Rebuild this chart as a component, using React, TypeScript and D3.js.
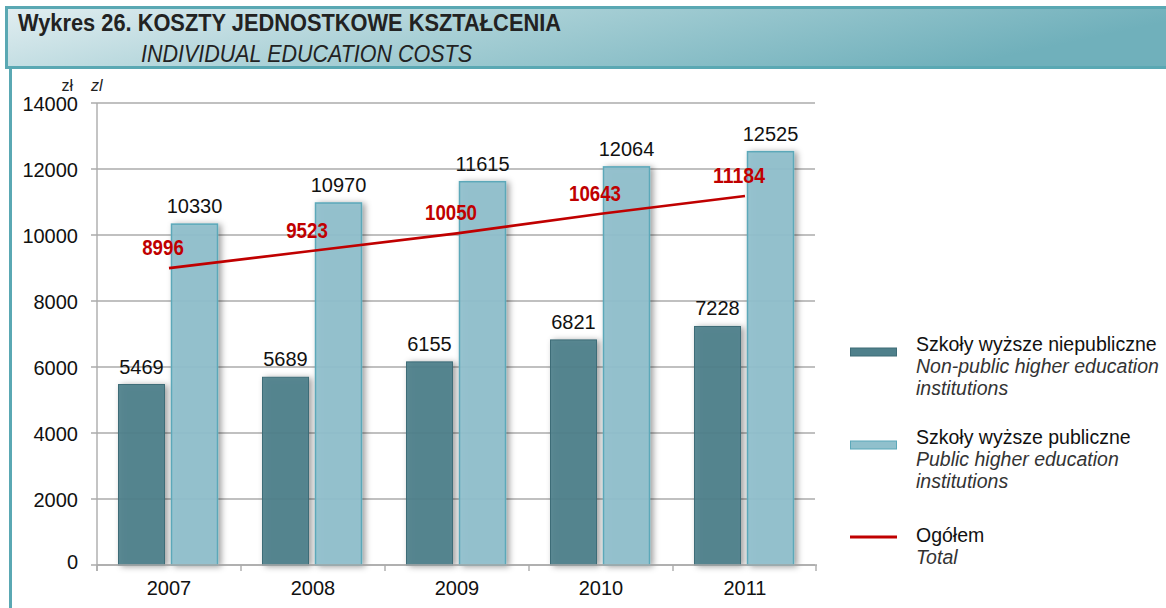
import * as d3 from 'd3';

const years = ['2007', '2008', '2009', '2010', '2011'];
const nonPublicCosts = [5469, 5689, 6155, 6821, 7228];
const publicCosts = [10330, 10970, 11615, 12064, 12525];
const totalCosts = [8996, 9523, 10050, 10643, 11184];
const yTicks = [0, 2000, 4000, 6000, 8000, 10000, 12000, 14000];

const legendItems = [
  { kind: 'dark', pl: 'Szkoły wyższe niepubliczne', en: ['Non-public higher education', 'institutions'] },
  { kind: 'light', pl: 'Szkoły wyższe publiczne', en: ['Public higher education', 'institutions'] },
  { kind: 'line', pl: 'Ogółem', en: ['Total'] }
];

const W = 1166;
const H = 608;
const plot = { left: 97, right: 817, top: 103, bottom: 565 };
const font = '"Liberation Sans", Arial, sans-serif';
const narrow = '"Liberation Sans Narrow", "Arial Narrow", "Liberation Sans", sans-serif';
const DARK = '#4f808b';
const DARK_EDGE = '#3e6c77';
const LIGHT = '#90c0cc';
const LIGHT_EDGE = '#5ba8b9';
const RED = '#c00000';
const GRID = '#ababab';

export default function App() {
  const x = d3.scaleBand().domain(years).range([plot.left, plot.right]).paddingInner(0).paddingOuter(0);
  const y = d3.scaleLinear().domain([0, 14000]).range([plot.bottom, plot.top]);
  const center = (yr: string) => (x(yr) as number) + x.bandwidth() / 2;
  const barW = 46;

  const line = d3
    .line<number>()
    .x((_, i) => center(years[i]))
    .y((v) => y(v));

  const legendTops = [348, 441, 537];

  return (
    <svg width={W} height={H} style={{ position: 'absolute', left: 0, top: 0, background: '#fff' }}>
      <defs>
        <linearGradient id="head" x1="0" y1="0" x2="1" y2="0.25">
          <stop offset="0" stopColor="#e2eef1" />
          <stop offset="0.45" stopColor="#a9d0d6" />
          <stop offset="1" stopColor="#70b0bb" />
        </linearGradient>
        <filter id="shadow" x="-30%" y="-10%" width="160%" height="130%">
          <feDropShadow dx="3" dy="1" stdDeviation="3" floodColor="#000" floodOpacity="0.4" />
        </filter>
      </defs>

      {/* header band */}
      <rect x={5} y={6} width={W - 5} height={63} fill="url(#head)" />
      <rect x={5} y={6} width={W - 5} height={3} fill="#5aa8b3" />
      <rect x={5} y={66} width={W - 5} height={3} fill="#5aa8b3" />
      <rect x={5} y={6} width={3} height={63} fill="#5aa8b3" />
      <rect x={9} y={66} width={3} height={H - 66} fill="#5aa8b3" />

      <text x={18} y={31} fontFamily={narrow} fontWeight="bold" fontSize={23} fill="#222" textLength={543} lengthAdjust="spacingAndGlyphs">
        Wykres 26. KOSZTY JEDNOSTKOWE KSZTAŁCENIA
      </text>
      <text x={141} y={62} fontFamily={narrow} fontStyle="italic" fontSize={23} fill="#222" textLength={331} lengthAdjust="spacingAndGlyphs">
        INDIVIDUAL EDUCATION COSTS
      </text>

      {/* unit labels */}
      <text x={73} y={91} fontFamily={font} fontSize={16} textAnchor="end" fill="#222">zł</text>
      <text x={91} y={91} fontFamily={font} fontSize={16} fontStyle="italic" fill="#222">zl</text>

      {/* grid */}
      {yTicks.map((t) => (
        <g key={t}>
          <line x1={91} x2={815} y1={y(t)} y2={y(t)} stroke={GRID} strokeWidth={1.6} />
          <text x={78} y={y(t) + (t === 0 ? 4 : 8)} fontFamily={font} fontSize={20} textAnchor="end" fill="#111">
            {t}
          </text>
        </g>
      ))}
      <line x1={plot.left} x2={plot.left} y1={plot.top} y2={plot.bottom + 6} stroke={GRID} strokeWidth={1.4} />
      {years.map((yr) => (
        <line key={yr} x1={x(yr)} x2={x(yr)} y1={plot.bottom} y2={plot.bottom + 6} stroke={GRID} strokeWidth={1.4} />
      ))}
      <line x1={plot.right - 1} x2={plot.right - 1} y1={plot.bottom} y2={plot.bottom + 6} stroke={GRID} strokeWidth={1.4} />

      {/* bars */}
      {years.map((yr, i) => {
        const c = center(yr);
        const dx = c - barW - 4.5;
        const lx = c + 2.5;
        return (
          <g key={yr}>
            <rect
              x={dx}
              y={y(nonPublicCosts[i])}
              width={barW}
              height={y(0) - y(nonPublicCosts[i])}
              fill={DARK}
              fillOpacity={0.93}
              stroke={DARK_EDGE}
              strokeWidth={1}
              filter="url(#shadow)"
            />
            <rect
              x={lx}
              y={y(publicCosts[i])}
              width={barW}
              height={y(0) - y(publicCosts[i])}
              fill={LIGHT}
              fillOpacity={0.93}
              stroke={LIGHT_EDGE}
              strokeWidth={1.5}
              filter="url(#shadow)"
            />
            <text x={dx + barW / 2} y={y(nonPublicCosts[i]) - 11} fontFamily={font} fontSize={20} textAnchor="middle" fill="#111">
              {nonPublicCosts[i]}
            </text>
            <text x={lx + barW / 2} y={y(publicCosts[i]) - 11} fontFamily={font} fontSize={20} textAnchor="middle" fill="#111">
              {publicCosts[i]}
            </text>
            <text x={c} y={595} fontFamily={font} fontSize={20} textAnchor="middle" fill="#111">
              {yr}
            </text>
          </g>
        );
      })}
      <line x1={plot.left} x2={plot.right} y1={plot.bottom} y2={plot.bottom} stroke={GRID} strokeWidth={1.6} />

      {/* total line */}
      <path d={line(totalCosts) || ''} fill="none" stroke={RED} strokeWidth={2.6} />
      {totalCosts.map((v, i) => {
        const label = String(v);
        return (
          <text
            key={years[i]}
            x={center(years[i]) - 6 - (label.length * 10.4) / 2}
            y={y(v) - 13}
            fontFamily={narrow}
            fontWeight="bold"
            fontSize={22}
            fill={RED}
            textLength={label.length * 10.4}
            lengthAdjust="spacingAndGlyphs"
          >
            {label}
          </text>
        );
      })}

      {/* legend */}
      {legendItems.map((item, k) => {
        const top = legendTops[k];
        const shift = item.kind === 'line' ? 0 : -2;
        return (
          <g key={item.pl}>
            {item.kind === 'line' ? (
              <line x1={850} x2={897} y1={top} y2={top} stroke={RED} strokeWidth={3} />
            ) : (
              <rect
                x={850.5}
                y={top}
                width={46}
                height={8}
                fill={item.kind === 'dark' ? DARK : LIGHT}
                stroke={item.kind === 'dark' ? DARK_EDGE : LIGHT_EDGE}
                strokeWidth={1}
              />
            )}
            <text x={916} y={top + 5 + shift} fontFamily={font} fontSize={19.5} fill="#111">
              {item.pl}
            </text>
            {item.en.map((t, j) => (
              <text key={t} x={916} y={top + 27 + j * 22 + shift} fontFamily={font} fontSize={19.5} fontStyle="italic" fill="#333">
                {t}
              </text>
            ))}
          </g>
        );
      })}
    </svg>
  );
}
